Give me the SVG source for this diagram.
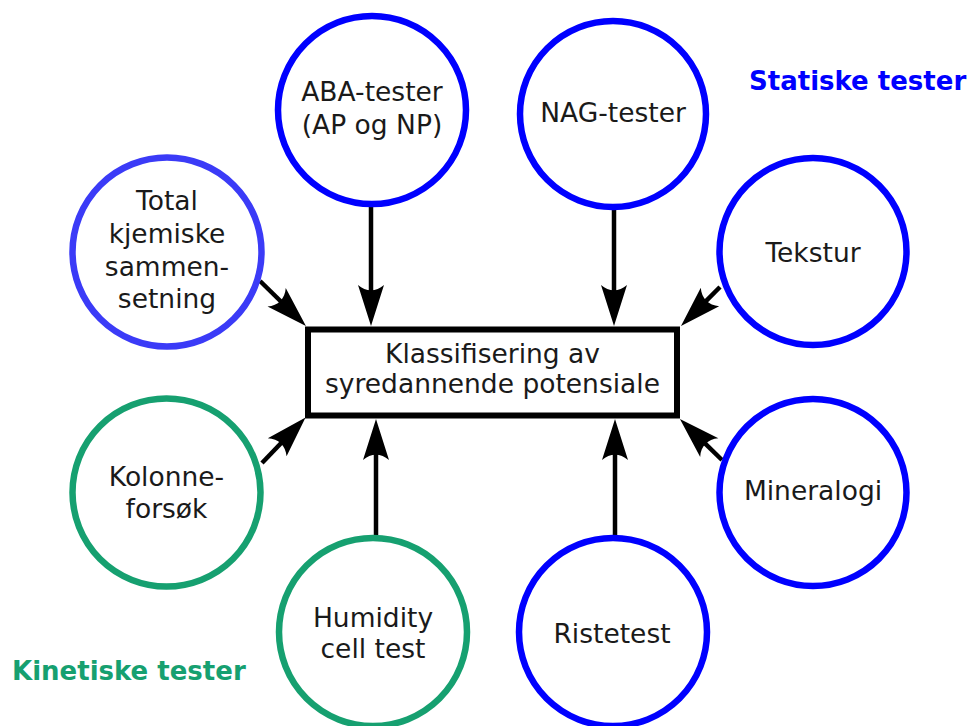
<svg xmlns="http://www.w3.org/2000/svg" width="971" height="726" viewBox="0 0 971 726">
  <style>
    .ring { fill: #ffffff; stroke-width: 6.5; }
    .blue { stroke: #0000ff; }
    .lblue { stroke: #3b3bf7; }
    .green { stroke: #16a070; }
    .lbl { font-family: "DejaVu Sans", Verdana, sans-serif; font-size: 26.5px; fill: #1a1a1a; text-anchor: middle; }
    .head { font-family: "DejaVu Sans", Verdana, sans-serif; font-size: 26px; font-weight: bold; }
    .conn { stroke: #000000; stroke-width: 4.5; fill: none; marker-end: url(#arrow); }
  </style>
  <defs>
    <marker id="arrow" markerUnits="userSpaceOnUse" orient="auto" refX="0" refY="0" markerWidth="60" markerHeight="40" viewBox="-20 -20 60 40" overflow="visible">
      <path d="M30,0 L-11,-13 C-4,-5 -4,5 -11,13 Z" fill="#000000"/>
    </marker>
  </defs>
  <rect width="971" height="726" fill="#ffffff"/>

  <g id="connectors">
    <line class="conn" x1="371" y1="207" x2="371" y2="296"/>
    <line class="conn" x1="614" y1="209" x2="614" y2="296"/>
    <line class="conn" x1="260" y1="281" x2="284.5" y2="305"/>
    <line class="conn" x1="720" y1="287" x2="702.2" y2="304.8"/>
    <line class="conn" x1="262" y1="463" x2="284.8" y2="439.2"/>
    <line class="conn" x1="722" y1="460" x2="701.4" y2="439.9"/>
    <line class="conn" x1="376" y1="535" x2="376" y2="449"/>
    <line class="conn" x1="615" y1="535" x2="615" y2="449"/>
  </g>

  <g id="center">
    <rect x="308" y="329.5" width="369" height="86" fill="#ffffff" stroke="#000000" stroke-width="6"/>
    <text class="lbl" x="492.5" y="363">Klassifisering av</text>
    <text class="lbl" x="492.5" y="393">syredannende potensiale</text>
  </g>

  <g id="aba">
    <circle class="ring blue" cx="372" cy="110" r="94"/>
    <text class="lbl" x="372" y="101">ABA-tester</text>
    <text class="lbl" x="372" y="134">(AP og NP)</text>
  </g>

  <g id="nag">
    <circle class="ring blue" cx="613" cy="114" r="93"/>
    <text class="lbl" x="613" y="122">NAG-tester</text>
  </g>

  <g id="total">
    <circle class="ring lblue" cx="167" cy="252" r="94.5"/>
    <text class="lbl" x="167" y="210">Total</text>
    <text class="lbl" x="167" y="243">kjemiske</text>
    <text class="lbl" x="167" y="276">sammen-</text>
    <text class="lbl" x="167" y="308">setning</text>
  </g>

  <g id="tekstur">
    <circle class="ring blue" cx="813" cy="251.5" r="93.5"/>
    <text class="lbl" x="813" y="262">Tekstur</text>
  </g>

  <g id="kolonne">
    <circle class="ring green" cx="166.5" cy="492.5" r="94"/>
    <text class="lbl" x="166.5" y="486">Kolonne-</text>
    <text class="lbl" x="166.5" y="518">forsøk</text>
  </g>

  <g id="mineralogi">
    <circle class="ring blue" cx="813" cy="492.5" r="93.5"/>
    <text class="lbl" x="813" y="500">Mineralogi</text>
  </g>

  <g id="humidity">
    <circle class="ring green" cx="373" cy="632" r="94"/>
    <text class="lbl" x="373" y="627">Humidity</text>
    <text class="lbl" x="373" y="658">cell test</text>
  </g>

  <g id="ristetest">
    <circle class="ring blue" cx="613" cy="632" r="94"/>
    <text class="lbl" x="612" y="643">Ristetest</text>
  </g>

  <g id="legend">
    <text class="head" x="749" y="90" fill="#0000ff">Statiske tester</text>
    <text class="head" x="12" y="680" fill="#16a070">Kinetiske tester</text>
  </g>
</svg>
